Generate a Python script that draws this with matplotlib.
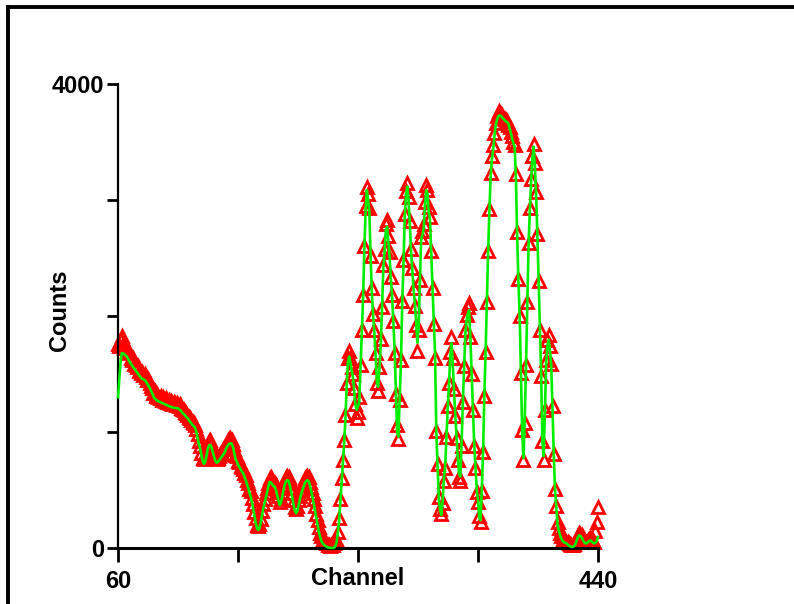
import matplotlib
matplotlib.use('Agg')
import matplotlib.pyplot as plt
from matplotlib.lines import Line2D

# channel numbers (one per channel, 60..440)
first_channel = 60
last_channel = 440

# measured counts (red triangles)
counts = [
    1760, 1740, 1790, 1830, 1760, 1720, 1740, 1700, 1680, 1690,  # 60
    1640, 1620, 1640, 1590, 1580, 1560, 1570, 1530, 1510, 1520,  # 70
    1490, 1500, 1470, 1450, 1460, 1420, 1400, 1380, 1340, 1350,  # 80
    1310, 1330, 1300, 1290, 1310, 1280, 1300, 1270, 1290, 1260,  # 90
    1280, 1250, 1270, 1240, 1260, 1250, 1230, 1250, 1220, 1240,  # 100
    1210, 1200, 1190, 1170, 1160, 1150, 1130, 1120, 1100, 1090,  # 110
    1080, 1060, 1030, 980, 920, 880, 820, 780, 770, 790,  # 120
    830, 880, 920, 930, 900, 860, 820, 790, 770, 780,  # 130
    790, 810, 820, 850, 850, 880, 900, 930, 940, 950,  # 140
    930, 900, 850, 800, 790, 750, 740, 710, 700, 680,  # 150
    650, 630, 590, 560, 510, 490, 430, 380, 310, 260,  # 160
    200, 190, 210, 250, 320, 380, 420, 470, 520, 560,  # 170
    600, 610, 580, 570, 560, 540, 490, 450, 400, 420,  # 180
    480, 530, 590, 610, 620, 610, 580, 520, 470, 410,  # 190
    350, 340, 360, 410, 450, 500, 540, 560, 600, 610,  # 200
    620, 610, 570, 530, 470, 420, 360, 290, 240, 180,  # 210
    130, 100, 80, 60, 50, 40, 30, 30, 20, 25,  # 220
    30, 40, 50, 60, 140, 260, 420, 600, 760, 930,  # 230
    1150, 1420, 1640, 1700, 1640, 1560, 1500, 1380, 1240, 1120,  # 240
    1170, 1300, 1580, 1880, 2180, 2600, 2950, 3110, 3050, 2930,  # 250
    2520, 2240, 2020, 1880, 1680, 1420, 1350, 1560, 1800, 2080,  # 260
    2440, 2580, 2790, 2830, 2690, 2550, 2340, 2180, 1960, 1680,  # 270
    1330, 1060, 940, 1280, 1620, 2130, 2480, 2880, 3080, 3150,  # 280
    3030, 2820, 2580, 2410, 2240, 2090, 1920, 1700, 1880, 2310,  # 290
    2680, 2730, 2790, 2980, 3130, 3090, 2940, 2850, 2560, 2240,  # 300
    1930, 1640, 1010, 720, 440, 340, 290, 390, 580, 690,  # 310
    960, 1220, 1420, 1690, 1820, 1640, 1370, 1140, 950, 760,  # 320
    610, 580, 880, 1260, 1570, 1880, 2010, 2080, 2110, 1820,  # 330
    1500, 1190, 880, 690, 480, 400, 280, 220, 490, 830,  # 340
    1310, 1690, 2120, 2560, 2920, 3230, 3380, 3470, 3580, 3660,  # 350
    3720, 3740, 3770, 3740, 3730, 3710, 3700, 3690, 3680, 3650,  # 360
    3630, 3590, 3550, 3500, 3470, 3220, 2720, 2320, 2000, 1510,  # 370
    1020, 760, 1080, 1580, 2120, 2630, 2930, 3180, 3380, 3480,  # 380
    3320, 3070, 2710, 2300, 1880, 1480, 920, 760, 1190, 1620,  # 390
    1790, 1840, 1740, 1590, 1220, 810, 510, 360, 220, 170,  # 400
    130, 100, 80, 70, 60, 55, 50, 40, 35, 30,  # 410
    30, 35, 50, 80, 110, 130, 125, 110, 90, 70,  # 420
    60, 55, 70, 80, 90, 75, 60, 55, 150, 220,  # 430
    355,  # 440
]

# fitted curve (green line)
fit = [
    1300, 1450, 1600, 1680, 1680, 1670, 1660, 1650, 1630, 1610,  # 60
    1590, 1575, 1560, 1545, 1530, 1515, 1500, 1485, 1470, 1460,  # 70
    1455, 1450, 1435, 1420, 1400, 1385, 1360, 1335, 1310, 1290,  # 80
    1280, 1270, 1265, 1260, 1255, 1250, 1245, 1240, 1235, 1230,  # 90
    1225, 1220, 1215, 1212, 1210, 1208, 1206, 1205, 1200, 1190,  # 100
    1180, 1165, 1155, 1145, 1130, 1120, 1105, 1090, 1075, 1060,  # 110
    1050, 1040, 1000, 950, 900, 860, 800, 750, 725, 740,  # 120
    790, 850, 885, 890, 870, 830, 790, 755, 735, 740,  # 130
    755, 770, 785, 800, 815, 840, 865, 885, 898, 902,  # 140
    900, 870, 820, 770, 745, 720, 700, 680, 660, 645,  # 150
    620, 590, 555, 520, 480, 445, 400, 340, 280, 220,  # 160
    170, 155, 170, 220, 280, 340, 385, 430, 480, 530,  # 170
    570, 565, 550, 535, 530, 500, 460, 410, 370, 390,  # 180
    440, 500, 545, 575, 585, 580, 540, 490, 430, 370,  # 190
    320, 300, 320, 370, 420, 465, 500, 530, 560, 578,  # 200
    585, 575, 540, 490, 440, 380, 320, 260, 200, 140,  # 210
    95, 60, 40, 28, 20, 12, 6, 3, 2, 1,  # 220
    0, 2, 15, 45, 130, 230, 400, 560, 720, 900,  # 230
    1100, 1390, 1600, 1650, 1600, 1530, 1475, 1350, 1230, 1190,  # 240
    1220, 1260, 1550, 1850, 2150, 2550, 2900, 3085, 3000, 2900,  # 250
    2500, 2200, 2000, 1850, 1650, 1420, 1390, 1550, 1750, 2050,  # 260
    2400, 2550, 2740, 2770, 2650, 2520, 2320, 2170, 1950, 1700,  # 270
    1350, 1000, 960, 1300, 1600, 2100, 2450, 2850, 3050, 3115,  # 280
    3000, 2800, 2560, 2400, 2230, 2110, 1950, 1770, 1900, 2300,  # 290
    2650, 2700, 2750, 2950, 3085, 3050, 2900, 2830, 2550, 2250,  # 300
    1950, 1680, 1000, 700, 420, 330, 285, 400, 600, 700,  # 310
    950, 1200, 1400, 1650, 1765, 1600, 1350, 1150, 960, 780,  # 320
    640, 615, 900, 1250, 1550, 1850, 1965, 2020, 2050, 1800,  # 330
    1500, 1200, 900, 700, 500, 415, 260, 240, 500, 820,  # 340
    1300, 1680, 2100, 2550, 2900, 3200, 3350, 3430, 3550, 3640,  # 350
    3690, 3720, 3730, 3725, 3715, 3700, 3690, 3680, 3670, 3660,  # 360
    3620, 3580, 3530, 3490, 3460, 3200, 2700, 2300, 1995, 1500,  # 370
    1000, 775, 1100, 1565, 2100, 2600, 2900, 3150, 3350, 3460,  # 380
    3300, 3050, 2700, 2300, 1900, 1500, 900, 790, 1200, 1600,  # 390
    1750, 1795, 1700, 1565, 1200, 800, 500, 350, 200, 150,  # 400
    110, 80, 60, 50, 45, 40, 30, 20, 15, 10,  # 410
    10, 15, 30, 60, 90, 110, 105, 90, 70, 50,  # 420
    40, 40, 50, 60, 65, 55, 45, 40, 45, 60,  # 430
    95,  # 440
]

channels = list(range(first_channel, last_channel + 1))

x_ticks = [60, 155, 250, 345, 440]
x_tick_labels = ['60', '', '', '', '440']
y_ticks = [0, 1000, 2000, 3000, 4000]
y_tick_labels = ['0', '', '', '', '4000']

plt.rcParams['font.family'] = ['Liberation Sans', 'DejaVu Sans']

fig = plt.figure(figsize=(7.94, 6.04), dpi=100)
ax = fig.add_axes([118 / 794, 56 / 604, 480 / 794, 464 / 604])

ax.plot(channels, counts, linestyle='none', marker='^', markersize=8,
        markerfacecolor='none', markeredgecolor='#ff0000', markeredgewidth=2,
        clip_on=False, zorder=2)
ax.plot(channels, fit, color='#00ee00', linewidth=1.9, clip_on=False, zorder=3)

ax.set_xlim(60, 440)
ax.set_ylim(0, 4000)
ax.set_xticks(x_ticks)
ax.set_xticklabels(x_tick_labels)
ax.set_yticks(y_ticks)
ax.set_yticklabels(y_tick_labels)

for side in ['top', 'right']:
    ax.spines[side].set_visible(False)
ax.spines['left'].set_linewidth(1.6)
ax.spines['bottom'].set_linewidth(2.2)
ax.tick_params(axis='x', direction='out', length=10, width=2, pad=6,
               labelsize=17)
ax.tick_params(axis='y', direction='out', length=8, width=2, pad=2,
               labelsize=17)
for lbl in ax.get_xticklabels() + ax.get_yticklabels():
    lbl.set_fontweight('bold')

ax.set_xlabel('Channel', fontsize=17, fontweight='bold')
ax.xaxis.set_label_coords(0.5, -0.042)
ax.set_ylabel('Counts', fontsize=17, fontweight='bold')
ax.yaxis.set_label_coords(-0.097, 0.513)

# outer frame (left and top edges)
fig.add_artist(Line2D([7.5 / 794, 7.5 / 794], [0, 1 - 6.5 / 604],
                      color='black', linewidth=2.8))
fig.add_artist(Line2D([7.5 / 794, 1], [1 - 6.5 / 604, 1 - 6.5 / 604],
                      color='black', linewidth=2.8))

fig.savefig('out.png', dpi=100)
